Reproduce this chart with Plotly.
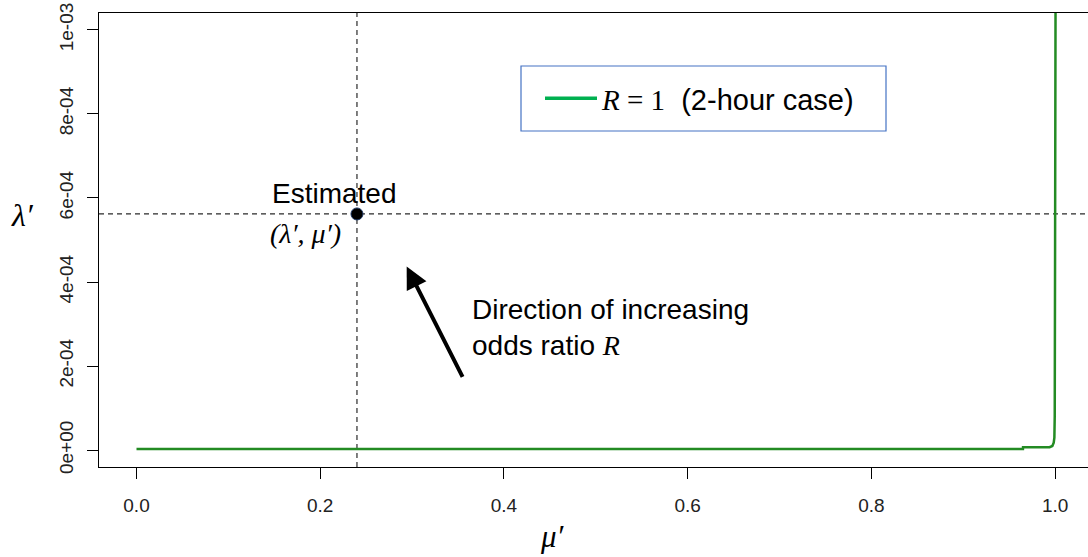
import plotly.graph_objects as go

# ---- data ----
mu_curve = [0.0, 0.965, 0.9651, 0.994, 0.997, 0.9985, 0.9992, 0.9996, 1.0, 1.0006]
lam_curve = [3e-6, 3e-6, 7e-6, 7e-6, 1.0e-5, 1.8e-5, 3.0e-5, 8e-5, 5e-4, 1.2e-3]
mu_est = [0.240]
lam_est = [5.62e-4]
arrow_tail = [0.3558, 1.71e-4]
arrow_tip = [0.2941, 4.37e-4]
x_ticks = [0.0, 0.2, 0.4, 0.6, 0.8, 1.0]
x_ticklabels = ["0.0", "0.2", "0.4", "0.6", "0.8", "1.0"]
y_ticks = [0.0, 2e-4, 4e-4, 6e-4, 8e-4, 1e-3]
y_ticklabels = ["0e+00", "2e-04", "4e-04", "6e-04", "8e-04", "1e-03"]
legend_label = '<span style="font-family:Liberation Serif"><i>R</i> = 1</span>  (2-hour case)'

# ---- geometry ----
W_FIG, H_FIG = 1088, 557
L, R, T, B = 99, 1088, 13, 467
PW, PH = R - L, B - T


def px(xp):
    return (xp - L) / PW


def py(yp):
    return (B - yp) / PH


fig = go.Figure()

fig.add_trace(go.Scatter(
    x=mu_curve, y=lam_curve, mode="lines",
    line=dict(color="#238B23", width=2.5),
    showlegend=False, hoverinfo="skip", cliponaxis=True,
))
# legend entry
fig.add_trace(go.Scatter(
    x=[None], y=[None], mode="lines",
    line=dict(color="#00B050", width=3.5),
    name=legend_label, showlegend=True,
))
fig.add_trace(go.Scatter(
    x=mu_est, y=lam_est, mode="markers",
    marker=dict(color="black", size=12, line=dict(color="#1F3864", width=1)),
    showlegend=False,
))

dash_line = dict(color="#2a2a2a", width=1.2, dash="5px,4px")
fig.add_vline(x=mu_est[0], line=dash_line, layer="below")
fig.add_hline(y=lam_est[0], line=dash_line, layer="below")

# legend frame
fig.add_shape(type="rect", xref="paper", yref="paper",
              x0=px(521), x1=px(886), y0=py(131), y1=py(66),
              line=dict(color="#4472C4", width=1.2), fillcolor="white", layer="below")

txt_font = dict(family="Liberation Sans, Arial", size=28, color="black")
fig.add_annotation(x=px(270), y=py(193), xref="paper", yref="paper", xanchor="left", yanchor="middle",
                   text="Estimated", showarrow=False, font=txt_font)
fig.add_annotation(x=px(268), y=py(233), xref="paper", yref="paper", xanchor="left", yanchor="middle",
                   text="<i>(λ′, μ′)</i>", showarrow=False,
                   font=dict(family="Liberation Serif", size=28, color="black"))
fig.add_annotation(x=px(470), y=py(327), xref="paper", yref="paper", xanchor="left", yanchor="middle",
                   align="left",
                   text='Direction of increasing<br>odds ratio <span style="font-family:Liberation Serif"><i>R</i></span>',
                   showarrow=False, font=txt_font)
fig.add_annotation(x=arrow_tip[0], y=arrow_tip[1], ax=arrow_tail[0], ay=arrow_tail[1],
                   xref="x", yref="y", axref="x", ayref="y", text="",
                   showarrow=True, arrowhead=2, arrowsize=1.1, arrowwidth=4, arrowcolor="black")

fig.add_annotation(x=px(22), y=py(215), xref="paper", yref="paper", xanchor="center", yanchor="middle",
                   text="<i>λ′</i>", showarrow=False,
                   font=dict(family="Liberation Serif", size=32, color="black"))
fig.add_annotation(x=px(552), y=py(536), xref="paper", yref="paper", xanchor="center", yanchor="middle",
                   text="<i>μ′</i>", showarrow=False,
                   font=dict(family="Liberation Serif", size=31, color="black"))

x0 = -(136.5 - L) / 918.6
x1 = x0 + PW / 918.6

fig.update_layout(
    width=W_FIG, height=H_FIG,
    margin=dict(l=L, r=W_FIG - R, t=T, b=H_FIG - B, pad=0),
    paper_bgcolor="white", plot_bgcolor="white",
    legend=dict(
        x=px(540), y=py(98.5), xanchor="left", yanchor="middle",
        borderwidth=0, bgcolor="rgba(0,0,0,0)",
        font=dict(family="Liberation Sans, Arial", size=29, color="black"),
        itemwidth=52,
    ),
    xaxis=dict(
        range=[x0, x1], tickvals=x_ticks, ticktext=x_ticklabels,
        showgrid=False, zeroline=False, showline=True, linecolor="black", linewidth=1,
        mirror=True, ticks="outside", ticklen=11, tickcolor="black",
        tickfont=dict(family="Liberation Sans, Arial", size=19, color="#222222"),
        ticklabelstandoff=10,
    ),
    yaxis=dict(
        range=[-4e-5, 1.04e-3], tickvals=y_ticks, ticktext=y_ticklabels,
        showgrid=False, zeroline=False, showline=True, linecolor="black", linewidth=1,
        mirror=False, ticks="outside", ticklen=11, tickcolor="black", tickangle=-90,
        tickfont=dict(family="Liberation Sans, Arial", size=19, color="#222222"),
        ticklabelstandoff=6,
    ),
)

fig.write_html("out.html", config={"displayModeBar": False},
               post_script="document.body.style.margin='0';")
